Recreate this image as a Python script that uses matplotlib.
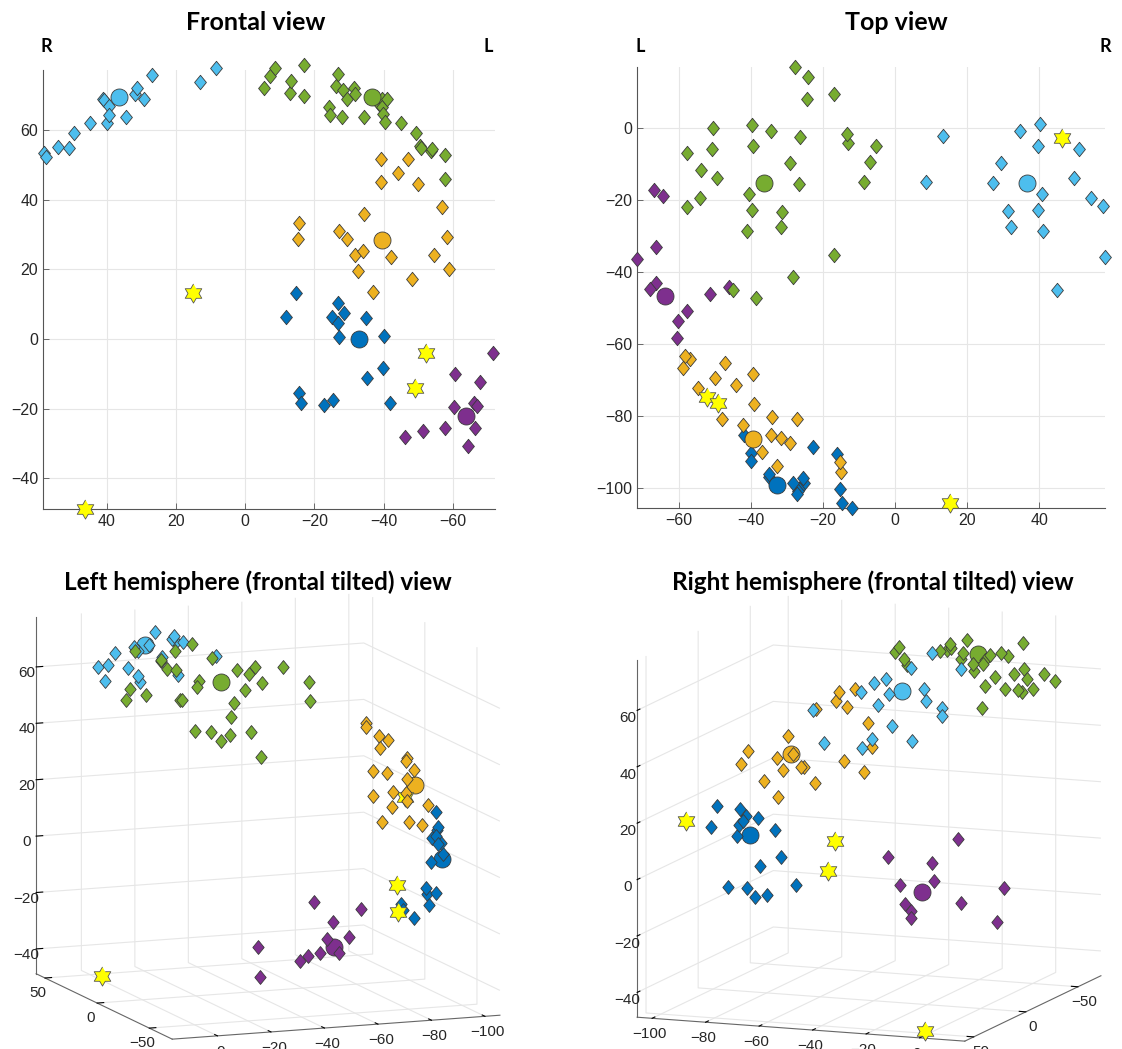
import numpy as np
import matplotlib
matplotlib.use('Agg')
import matplotlib.pyplot as plt
from matplotlib.path import Path

# ---- data (x: R+/L-, y: anterior/posterior, z: up) ----
# light blue
lb_x = [58.3, 57.7, 54.2, 51.0, 49.5, 45.0, 41.1, 40.8, 40.1, 39.5, 39.5, 34.6, 32.0, 31.3, 29.3, 27.0, 13.2, 8.6]
lb_y = [-36.0, -21.7, -19.4, -5.9, -13.8, -45.0, -28.6, -18.3, 1.1, -5.0, -22.8, -0.8, -27.5, -23.1, -9.9, -15.4, -2.2, -15.0]
lb_z = [53.4, 52.2, 55.1, 54.8, 59.1, 62.0, 68.9, 68.6, 62.0, 66.9, 64.3, 63.7, 70.3, 72.0, 68.9, 75.8, 73.7, 77.8]

# green
gr_x = [-5.4, -7.1, -8.7, -13.0, -13.3, -17.0, -17.0, -24.1, -24.4, -26.3, -26.7, -27.9, -28.3, -29.3, -31.3, -31.8,
        -34.4, -38.7, -39.5, -39.6, -39.8, -40.5, -41.0, -44.9, -49.3, -50.4, -50.8, -53.8, -54.0, -57.7, -57.8]
gr_y = [-5.0, -9.4, -15.0, -4.2, -1.7, 9.4, -35.3, 14.2, 8.0, -2.5, -15.6, 17.0, -41.4, -9.7, -23.3, -27.5,
        -0.8, -47.2, -5.0, -22.8, 0.8, -18.3, -28.6, -45.0, -13.9, 0.0, -5.8, -11.7, -19.4, -7.0, -21.9]
gr_z = [72.0, 75.5, 77.8, 70.6, 74.0, 78.6, 69.7, 66.6, 64.3, 72.6, 76.0, 63.7, 71.4, 68.9, 72.0, 70.3,
        63.7, 67.5, 68.9, 66.6, 64.6, 62.3, 68.9, 62.0, 59.1, 55.5, 54.8, 54.0, 54.5, 52.8, 45.9]

# orange
or_x = [-15.1, -15.4, -27.2, -29.3, -31.8, -32.7, -34.1, -34.4, -37.0, -39.1, -39.3, -42.1, -44.2, -47.1, -48.1,
        -49.9, -54.6, -56.8, -58.4, -58.9]
or_y = [-95.6, -92.8, -80.8, -87.5, -86.1, -93.9, -80.3, -85.3, -90.0, -76.7, -68.3, -82.5, -71.4, -65.3, -80.8,
        -69.4, -72.2, -64.2, -63.3, -66.7]
or_z = [28.7, 33.3, 31.0, 28.7, 24.1, 19.5, 25.3, 35.9, 13.5, 45.0, 51.6, 23.5, 47.6, 51.6, 17.2,
        44.5, 24.1, 37.9, 29.3, 20.1]

# dark blue
db_x = [-11.9, -14.7, -15.4, -16.0, -22.8, -25.2, -25.5, -26.7, -26.9, -27.2, -28.4, -35.0, -35.1, -39.9, -40.0, -41.8]
db_y = [-105.6, -104.2, -100.3, -90.6, -88.6, -98.6, -97.2, -100.3, -101.0, -101.7, -98.6, -96.9, -96.1, -90.3,
        -92.5, -85.3]
db_z = [6.3, 13.2, -15.5, -18.4, -18.9, 6.3, -17.5, 10.3, 4.6, 0.6, 7.5, 6.0, -11.2, -8.3, 0.9, -18.4]

# purple
pu_x = [-46.1, -51.4, -57.8, -60.2, -60.5, -64.3, -66.2, -66.3, -67.0, -68.0, -71.7]
pu_y = [-44.1, -46.2, -50.8, -53.6, -58.3, -18.9, -43.1, -33.1, -17.2, -44.7, -36.4]
pu_z = [-28.1, -26.4, -25.5, -19.5, -10.0, -30.7, -18.4, -25.5, -19.2, -12.3, -4.0]

# cluster centres: dark blue, purple, orange, green, light blue
cen_x = [-32.9, -63.7, -39.4, -36.5, 36.5]
cen_y = [-99.2, -46.7, -86.4, -15.3, -15.3]
cen_z = [0.0, -22.1, 28.4, 69.4, 69.4]

# yellow stars
st_x = [15.1, 46.3, -52.2, -49.2]
st_y = [-104.2, -2.8, -74.7, -76.4]
st_z = [13.2, -48.8, -4.0, -14.1]

colors = ['#0072BD', '#7E2F8E', '#EDB120', '#77AC30', '#4DBEEE']
groups = [(db_x, db_y, db_z), (pu_x, pu_y, pu_z), (or_x, or_y, or_z), (gr_x, gr_y, gr_z), (lb_x, lb_y, lb_z)]

# ---- marker shapes (matlab-like diamond and hexagram) ----
diamond = Path([(0, 1), (0.82, 0), (0, -1), (-0.82, 0), (0, 1)], closed=True)
ang = np.deg2rad(90 + 30 * np.arange(12))
rad = np.where(np.arange(12) % 2 == 0, 1.0, 1 / np.sqrt(3))
hexagram = Path(np.column_stack([rad * np.cos(ang), rad * np.sin(ang)]), closed=False)

EDGE = '#3a3a3a'
TICKC = '#262626'
plt.rcParams['font.family'] = ['Liberation Sans', 'DejaVu Sans']
plt.rcParams['grid.color'] = '#e6e6e6'
plt.rcParams['grid.linewidth'] = 0.8

fig = plt.figure(figsize=(11.22, 10.49), dpi=100)
W, H = 1122, 1049


def px_rect(l, t, r, b):
    return [l / W, 1 - b / H, (r - l) / W, (b - t) / H]


def style_2d(ax):
    for s in ['top', 'right']:
        ax.spines[s].set_visible(False)
    for s in ['left', 'bottom']:
        ax.spines[s].set_color('#555555')
        ax.spines[s].set_linewidth(0.8)
    ax.grid(True, zorder=0)
    ax.set_axisbelow(True)
    ax.tick_params(direction='in', length=4, width=0.6, colors='#555555', labelcolor=TICKC, labelsize=11.5)


def draw_2d(ax, hi, vi):
    for (g, c), cx, cy, cz in zip(zip(groups, colors), cen_x, cen_y, cen_z):
        h = g[hi]
        v = g[vi]
        ax.scatter(h, v, s=108, marker=diamond, c=c, edgecolors=EDGE, linewidths=0.6, zorder=3, clip_on=False)
        cen = (cx, cy, cz)
        ax.scatter([cen[hi]], [cen[vi]], s=150, marker='o', c=c, edgecolors=EDGE, linewidths=0.6, zorder=4,
                   clip_on=False)
    st = (st_x, st_y, st_z)
    ax.scatter(st[hi], st[vi], s=190, marker=hexagram, c='#FFFF00', edgecolors='#555555', linewidths=0.6,
               zorder=5, clip_on=False)


# frontal view
ax1 = fig.add_axes(px_rect(43, 70, 495, 509))
style_2d(ax1)
draw_2d(ax1, 0, 2)
ax1.set_xlim(58.5, -72.2)
ax1.set_ylim(-48.8, 77.2)
ax1.set_xticks([40, 20, 0, -20, -40, -60])
ax1.set_yticks([-40, -20, 0, 20, 40, 60])

# top view
ax2 = fig.add_axes(px_rect(637, 67, 1105, 508))
style_2d(ax2)
draw_2d(ax2, 0, 1)
ax2.set_xlim(-71.6, 58.2)
ax2.set_ylim(-105.6, 16.9)
ax2.set_xticks([-60, -40, -20, 0, 20, 40])
ax2.set_yticks([-100, -80, -60, -40, -20, 0])


def draw_3d(ax, elev, azim, zpos):
    ax.set_proj_type('ortho')
    for i, (g, c) in enumerate(zip(groups, colors)):
        ax.scatter(g[0], g[1], g[2], s=100, marker=diamond, c=c, edgecolors=EDGE, linewidths=0.6,
                   depthshade=False)
        ax.scatter([cen_x[i]], [cen_y[i]], [cen_z[i]], s=150, marker='o', c=c, edgecolors=EDGE,
                   linewidths=0.6, depthshade=False)
    ax.scatter(st_x, st_y, st_z, s=190, marker=hexagram, c='#FFFF00', edgecolors='#555555', linewidths=0.6,
               depthshade=False)
    ax.set_xlim(-72.0, 58.5)
    ax.set_ylim(-105.6, 16.9)
    ax.set_zlim(-48.8, 77.8)
    ax.set_xticks([-50, 0, 50])
    ax.set_yticks([-100, -80, -60, -40, -20, 0])
    ax.set_zticks([-40, -20, 0, 20, 40, 60])
    ax.set_box_aspect((130.5, 122.5, 126.6), zoom=1.175)
    ax.view_init(elev=elev, azim=azim)
    for a in (ax.xaxis, ax.yaxis, ax.zaxis):
        a.set_pane_color((1, 1, 1, 0))
        a.pane.set_edgecolor((1, 1, 1, 0))
        a.line.set_color('#666666')
        a.line.set_linewidth(0.8)
        a._axinfo['tick']['inward_factor'] = 0.0
        a._axinfo['tick']['outward_factor'] = 0.25
        a._axinfo['tick']['color'] = '#666666'
    if zpos:
        ax.zaxis.set_ticks_position(zpos)
    ax.tick_params(labelsize=11, labelcolor=TICKC, pad=-4)


ax3 = fig.add_axes(px_rect(1, 563, 521, 1083), projection='3d')
draw_3d(ax3, 10.8, 158.7, 'upper')

ax4 = fig.add_axes(px_rect(602, 565, 1122, 1085), projection='3d')
draw_3d(ax4, 10.8, 21.3, None)

# titles and side labels
tkw = dict(family=['Lato', 'DejaVu Sans'], fontweight='bold', ha='center', va='center')
fig.text(256 / W, 1 - 22 / H, 'Frontal view', fontsize=18, **tkw)
fig.text(896 / W, 1 - 22 / H, 'Top view', fontsize=18, **tkw)
fig.text(258 / W, 1 - 582 / H, 'Left hemisphere (frontal tilted) view', fontsize=17.5, **tkw)
fig.text(873 / W, 1 - 582 / H, 'Right hemisphere (frontal tilted) view', fontsize=17.5, **tkw)
fig.text(46 / W, 1 - 47 / H, 'R', fontsize=13, **tkw)
fig.text(488 / W, 1 - 47 / H, 'L', fontsize=13, **tkw)
fig.text(640 / W, 1 - 47 / H, 'L', fontsize=13, **tkw)
fig.text(1105 / W, 1 - 47 / H, 'R', fontsize=13, **tkw)

fig.savefig('out.png', dpi=100)
